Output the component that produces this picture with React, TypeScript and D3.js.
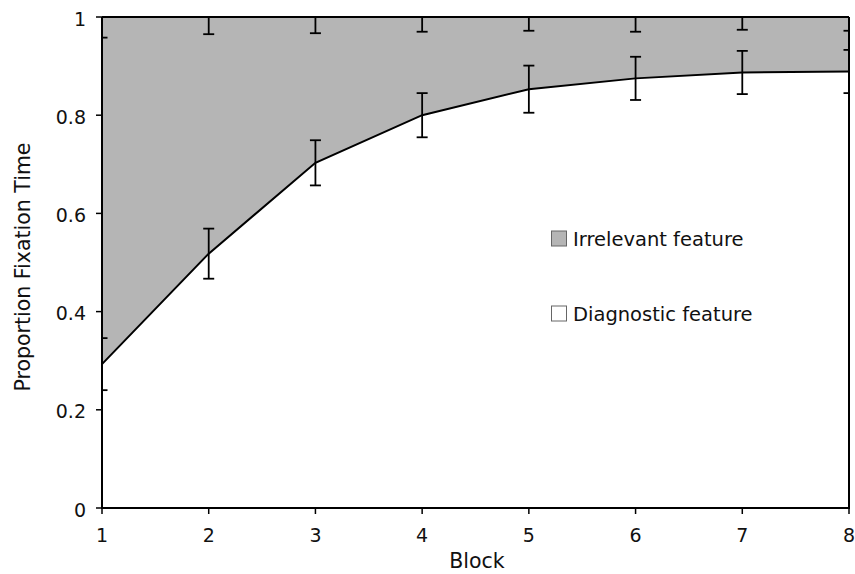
import React from "react";
import * as d3 from "d3";

// Proportion of fixation time per training block
const blocks = [1, 2, 3, 4, 5, 6, 7, 8];
const diagnostic = [0.293, 0.518, 0.703, 0.8, 0.853, 0.875, 0.887, 0.889];
const diagnosticErr = [0.053, 0.051, 0.046, 0.045, 0.048, 0.044, 0.044, 0.044];
const irrelevant = [0.707, 0.482, 0.297, 0.2, 0.147, 0.125, 0.113, 0.111];
const irrelevantErr = [0.042, 0.035, 0.033, 0.03, 0.028, 0.03, 0.026, 0.028];
const yTicks = [0, 0.2, 0.4, 0.6, 0.8, 1];
const yTickLabels = ["0", "0.2", "0.4", "0.6", "0.8", "1"];
const legendLabels = ["Irrelevant feature", "Diagnostic feature"];

const W = 855;
const H = 574;
const left = 102;
const right = 849;
const top = 17;
const bottom = 508;
const FONT = "Verdana, 'DejaVu Sans', sans-serif";
const GRAY = "#b5b5b5";

export default function App() {
  const x = d3.scaleLinear().domain([1, 8]).range([left, right]);
  const y = d3.scaleLinear().domain([0, 1]).range([bottom, top]);

  const rows = blocks.map((b, i) => ({
    b,
    d: diagnostic[i],
    dErr: diagnosticErr[i],
    total: diagnostic[i] + irrelevant[i],
    iErr: irrelevantErr[i],
  }));

  const area = d3
    .area<(typeof rows)[number]>()
    .x((r) => x(r.b))
    .y0((r) => y(r.d))
    .y1((r) => y(r.total));
  const line = d3
    .line<(typeof rows)[number]>()
    .x((r) => x(r.b))
    .y((r) => y(r.d));

  const cap = 5.5;
  const errBar = (cx: number, lo: number, hi: number, key: string) => (
    <g key={key}>
      <line x1={cx} x2={cx} y1={y(lo)} y2={y(hi)} />
      <line x1={cx - cap} x2={cx + cap} y1={y(lo)} y2={y(lo)} />
      <line x1={cx - cap} x2={cx + cap} y1={y(hi)} y2={y(hi)} />
    </g>
  );

  return (
    <svg
      width={W}
      height={H}
      style={{ position: "absolute", left: 0, top: 0, background: "#fff" }}
      fontFamily={FONT}
    >
      <defs>
        <clipPath id="plot-clip">
          <rect x={left} y={top} width={right - left} height={bottom - top} />
        </clipPath>
      </defs>

      {/* stacked areas: diagnostic (white) under irrelevant (gray) */}
      <path d={area(rows) ?? ""} fill={GRAY} stroke="none" />
      <path d={line(rows) ?? ""} fill="none" stroke="#000" strokeWidth={2} />

      {/* error bars */}
      <g clipPath="url(#plot-clip)" stroke="#000" strokeWidth={1.8}>
        {rows.map((r, i) => errBar(x(r.b), r.d - r.dErr, r.d + r.dErr, `d${i}`))}
        {rows.map((r, i) => errBar(x(r.b), r.total - r.iErr, r.total + r.iErr, `i${i}`))}
      </g>

      {/* frame */}
      <g stroke="#000" strokeWidth={2} fill="none">
        <line x1={left} x2={right} y1={top} y2={top} />
        <line x1={right} x2={right} y1={top} y2={bottom} />
        <line x1={left} x2={left} y1={top} y2={bottom + 1} />
        <line x1={left - 1} x2={right + 1} y1={bottom} y2={bottom} />
      </g>

      {/* ticks */}
      <g stroke="#000" strokeWidth={1.5}>
        {yTicks.map((t) => (
          <line key={t} x1={left - 6} x2={left} y1={y(t)} y2={y(t)} />
        ))}
        {blocks.map((b) => (
          <line key={b} x1={x(b)} x2={x(b)} y1={bottom} y2={bottom + 6} />
        ))}
      </g>
      <g fontSize={19} fill="#111" textAnchor="end">
        {yTicks.map((t, i) => (
          <text key={t} x={left - 16} y={y(t) + 8.5}>
            {yTickLabels[i]}
          </text>
        ))}
      </g>
      <g fontSize={19} fill="#111" textAnchor="middle">
        {blocks.map((b) => (
          <text key={b} x={x(b)} y={542}>
            {b}
          </text>
        ))}
      </g>

      {/* axis titles */}
      <text x={477} y={568} fontSize={20.5} textAnchor="middle" fill="#111">
        Block
      </text>
      <text
        transform={`translate(29.5,267) rotate(-90)`}
        fontSize={20.5}
        textAnchor="middle"
        fill="#111"
      >
        Proportion Fixation Time
      </text>

      {/* legend */}
      <g fontSize={19.5} fill="#111">
        <rect x={551.5} y={231} width={15} height={15} fill={GRAY} stroke="#666" strokeWidth={1} />
        <text x={573} y={246}>
          {legendLabels[0]}
        </text>
        <rect x={551.5} y={306} width={15} height={15} fill="#fff" stroke="#666" strokeWidth={1} />
        <text x={573} y={321}>
          {legendLabels[1]}
        </text>
      </g>
    </svg>
  );
}
